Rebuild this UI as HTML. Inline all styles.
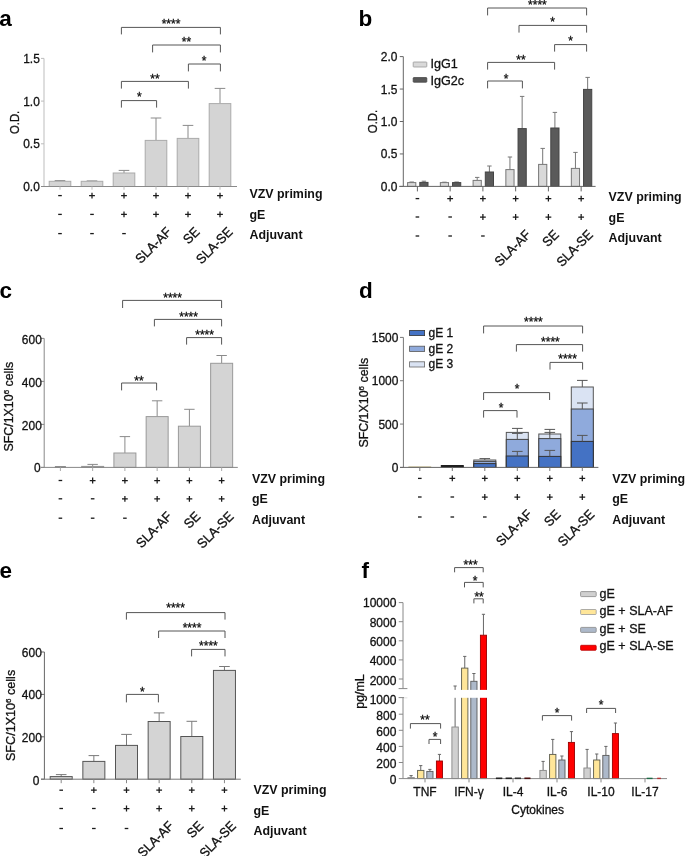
<!DOCTYPE html><html><head><meta charset="utf-8"><style>html,body{margin:0;padding:0;background:#fff;}svg{display:block;font-family:"Liberation Sans",sans-serif;will-change:transform;}</style></head><body>
<svg width="685" height="856" viewBox="0 0 685 856">
<rect width="685" height="856" fill="#fff"/>
<text transform="translate(-0.80,26.00)" font-size="22.5" text-anchor="start" font-weight="bold" fill="#000"  >a</text>
<line x1="44.00" y1="58.40" x2="44.00" y2="186.50" stroke="#bdbdbd" stroke-width="1"/>
<line x1="41.00" y1="186.50" x2="44.00" y2="186.50" stroke="#bdbdbd" stroke-width="1"/>
<text transform="translate(39.80,191.00) scale(0.95,1)" font-size="12.6" text-anchor="end" font-weight="normal" fill="#111" stroke="#111" stroke-width="0.3" >0.0</text>
<line x1="41.00" y1="143.80" x2="44.00" y2="143.80" stroke="#bdbdbd" stroke-width="1"/>
<text transform="translate(39.80,148.30) scale(0.95,1)" font-size="12.6" text-anchor="end" font-weight="normal" fill="#111" stroke="#111" stroke-width="0.3" >0.5</text>
<line x1="41.00" y1="101.10" x2="44.00" y2="101.10" stroke="#bdbdbd" stroke-width="1"/>
<text transform="translate(39.80,105.60) scale(0.95,1)" font-size="12.6" text-anchor="end" font-weight="normal" fill="#111" stroke="#111" stroke-width="0.3" >1.0</text>
<line x1="41.00" y1="58.40" x2="44.00" y2="58.40" stroke="#bdbdbd" stroke-width="1"/>
<text transform="translate(39.80,62.90) scale(0.95,1)" font-size="12.6" text-anchor="end" font-weight="normal" fill="#111" stroke="#111" stroke-width="0.3" >1.5</text>
<text transform="translate(18.5,122.4) rotate(-90) scale(0.9,1)" font-size="12.6" text-anchor="middle" fill="#111" stroke="#111" stroke-width="0.3">O.D.</text>
<line x1="60.00" y1="181.30" x2="60.00" y2="180.60" stroke="#8a8a8a" stroke-width="1"/>
<line x1="54.70" y1="180.60" x2="65.30" y2="180.60" stroke="#8a8a8a" stroke-width="1"/>
<rect x="49.20" y="181.30" width="21.60" height="5.20" fill="#d4d4d4" stroke="#aaaaaa" stroke-width="1"/>
<line x1="92.00" y1="181.30" x2="92.00" y2="180.90" stroke="#8a8a8a" stroke-width="1"/>
<line x1="86.70" y1="180.90" x2="97.30" y2="180.90" stroke="#8a8a8a" stroke-width="1"/>
<rect x="81.20" y="181.30" width="21.60" height="5.20" fill="#d4d4d4" stroke="#aaaaaa" stroke-width="1"/>
<line x1="124.00" y1="173.00" x2="124.00" y2="170.40" stroke="#8a8a8a" stroke-width="1"/>
<line x1="118.70" y1="170.40" x2="129.30" y2="170.40" stroke="#8a8a8a" stroke-width="1"/>
<rect x="113.20" y="173.00" width="21.60" height="13.50" fill="#d4d4d4" stroke="#aaaaaa" stroke-width="1"/>
<line x1="156.00" y1="140.40" x2="156.00" y2="118.00" stroke="#8a8a8a" stroke-width="1"/>
<line x1="150.70" y1="118.00" x2="161.30" y2="118.00" stroke="#8a8a8a" stroke-width="1"/>
<rect x="145.20" y="140.40" width="21.60" height="46.10" fill="#d4d4d4" stroke="#aaaaaa" stroke-width="1"/>
<line x1="188.00" y1="138.40" x2="188.00" y2="125.40" stroke="#8a8a8a" stroke-width="1"/>
<line x1="182.70" y1="125.40" x2="193.30" y2="125.40" stroke="#8a8a8a" stroke-width="1"/>
<rect x="177.20" y="138.40" width="21.60" height="48.10" fill="#d4d4d4" stroke="#aaaaaa" stroke-width="1"/>
<line x1="220.00" y1="103.60" x2="220.00" y2="88.40" stroke="#8a8a8a" stroke-width="1"/>
<line x1="214.70" y1="88.40" x2="225.30" y2="88.40" stroke="#8a8a8a" stroke-width="1"/>
<rect x="209.20" y="103.60" width="21.60" height="82.90" fill="#d4d4d4" stroke="#aaaaaa" stroke-width="1"/>
<line x1="41.00" y1="186.50" x2="237.00" y2="186.50" stroke="#8a8a8a" stroke-width="1"/>
<line x1="60.00" y1="186.50" x2="60.00" y2="189.70" stroke="#bdbdbd" stroke-width="1"/>
<line x1="92.00" y1="186.50" x2="92.00" y2="189.70" stroke="#bdbdbd" stroke-width="1"/>
<line x1="124.00" y1="186.50" x2="124.00" y2="189.70" stroke="#bdbdbd" stroke-width="1"/>
<line x1="156.00" y1="186.50" x2="156.00" y2="189.70" stroke="#bdbdbd" stroke-width="1"/>
<line x1="188.00" y1="186.50" x2="188.00" y2="189.70" stroke="#bdbdbd" stroke-width="1"/>
<line x1="220.00" y1="186.50" x2="220.00" y2="189.70" stroke="#bdbdbd" stroke-width="1"/>
<path d="M121.40 34.40 V27.40 H220.40 V34.40" fill="none" stroke="#555" stroke-width="1"/>
<text transform="translate(171.00,27.88)" font-size="12" text-anchor="middle" font-weight="normal" fill="#111" stroke="#111" stroke-width="0.3" letter-spacing="0">****</text>
<path d="M152.60 52.40 V45.00 H220.40 V52.40" fill="none" stroke="#555" stroke-width="1"/>
<text transform="translate(186.40,45.88)" font-size="12" text-anchor="middle" font-weight="normal" fill="#111" stroke="#111" stroke-width="0.3" letter-spacing="0">**</text>
<path d="M188.40 71.40 V64.00 H220.40 V71.40" fill="none" stroke="#555" stroke-width="1"/>
<text transform="translate(204.00,64.88)" font-size="12" text-anchor="middle" font-weight="normal" fill="#111" stroke="#111" stroke-width="0.3" letter-spacing="0">*</text>
<path d="M121.40 88.60 V81.40 H188.40 V88.60" fill="none" stroke="#555" stroke-width="1"/>
<text transform="translate(155.00,83.48)" font-size="12" text-anchor="middle" font-weight="normal" fill="#111" stroke="#111" stroke-width="0.3" letter-spacing="0">**</text>
<path d="M121.40 107.60 V100.60 H156.60 V107.60" fill="none" stroke="#555" stroke-width="1"/>
<text transform="translate(139.40,101.28)" font-size="12" text-anchor="middle" font-weight="normal" fill="#111" stroke="#111" stroke-width="0.3" letter-spacing="0">*</text>
<rect x="58.20" y="194.95" width="3.6" height="1.3" fill="#1a1a1a"/>
<path d="M89.10 195.60H94.90M92.00 192.70V198.50" stroke="#1a1a1a" stroke-width="1.25" fill="none"/>
<path d="M121.10 195.60H126.90M124.00 192.70V198.50" stroke="#1a1a1a" stroke-width="1.25" fill="none"/>
<path d="M153.10 195.60H158.90M156.00 192.70V198.50" stroke="#1a1a1a" stroke-width="1.25" fill="none"/>
<path d="M185.10 195.60H190.90M188.00 192.70V198.50" stroke="#1a1a1a" stroke-width="1.25" fill="none"/>
<path d="M217.10 195.60H222.90M220.00 192.70V198.50" stroke="#1a1a1a" stroke-width="1.25" fill="none"/>
<rect x="58.20" y="213.75" width="3.6" height="1.3" fill="#1a1a1a"/>
<rect x="90.20" y="213.75" width="3.6" height="1.3" fill="#1a1a1a"/>
<path d="M121.10 214.40H126.90M124.00 211.50V217.30" stroke="#1a1a1a" stroke-width="1.25" fill="none"/>
<path d="M153.10 214.40H158.90M156.00 211.50V217.30" stroke="#1a1a1a" stroke-width="1.25" fill="none"/>
<path d="M185.10 214.40H190.90M188.00 211.50V217.30" stroke="#1a1a1a" stroke-width="1.25" fill="none"/>
<path d="M217.10 214.40H222.90M220.00 211.50V217.30" stroke="#1a1a1a" stroke-width="1.25" fill="none"/>
<rect x="58.20" y="232.95" width="3.6" height="1.3" fill="#1a1a1a"/>
<rect x="90.20" y="232.95" width="3.6" height="1.3" fill="#1a1a1a"/>
<rect x="122.20" y="232.95" width="3.6" height="1.3" fill="#1a1a1a"/>
<text transform="translate(249.50,198.20)" font-size="12.4" text-anchor="start" font-weight="bold" fill="#111"  >VZV priming</text>
<text transform="translate(249.50,218.60)" font-size="12.4" text-anchor="start" font-weight="bold" fill="#111"  >gE</text>
<text transform="translate(249.50,238.80)" font-size="12.4" text-anchor="start" font-weight="bold" fill="#111"  >Adjuvant</text>
<text transform="translate(172.30,232.80) rotate(-45) scale(0.95,1)" font-size="13.4" text-anchor="end" fill="#111" stroke="#111" stroke-width="0.3">SLA-AF</text>
<text transform="translate(200.40,232.80) rotate(-45) scale(0.95,1)" font-size="13.4" text-anchor="end" fill="#111" stroke="#111" stroke-width="0.3">SE</text>
<text transform="translate(233.40,232.80) rotate(-45) scale(0.95,1)" font-size="13.4" text-anchor="end" fill="#111" stroke="#111" stroke-width="0.3">SLA-SE</text>
<text transform="translate(358.60,26.00)" font-size="22.5" text-anchor="start" font-weight="bold" fill="#000"  >b</text>
<line x1="403.30" y1="56.60" x2="403.30" y2="186.40" stroke="#666" stroke-width="1"/>
<line x1="399.80" y1="186.40" x2="403.30" y2="186.40" stroke="#666" stroke-width="1"/>
<text transform="translate(397.40,190.90) scale(0.95,1)" font-size="12.6" text-anchor="end" font-weight="normal" fill="#111" stroke="#111" stroke-width="0.3" >0.0</text>
<line x1="399.80" y1="153.95" x2="403.30" y2="153.95" stroke="#666" stroke-width="1"/>
<text transform="translate(397.40,158.45) scale(0.95,1)" font-size="12.6" text-anchor="end" font-weight="normal" fill="#111" stroke="#111" stroke-width="0.3" >0.5</text>
<line x1="399.80" y1="121.50" x2="403.30" y2="121.50" stroke="#666" stroke-width="1"/>
<text transform="translate(397.40,126.00) scale(0.95,1)" font-size="12.6" text-anchor="end" font-weight="normal" fill="#111" stroke="#111" stroke-width="0.3" >1.0</text>
<line x1="399.80" y1="89.05" x2="403.30" y2="89.05" stroke="#666" stroke-width="1"/>
<text transform="translate(397.40,93.55) scale(0.95,1)" font-size="12.6" text-anchor="end" font-weight="normal" fill="#111" stroke="#111" stroke-width="0.3" >1.5</text>
<line x1="399.80" y1="56.60" x2="403.30" y2="56.60" stroke="#666" stroke-width="1"/>
<text transform="translate(397.40,61.10) scale(0.95,1)" font-size="12.6" text-anchor="end" font-weight="normal" fill="#111" stroke="#111" stroke-width="0.3" >2.0</text>
<text transform="translate(377.0,121.5) rotate(-90) scale(0.9,1)" font-size="12.6" text-anchor="middle" fill="#111" stroke="#111" stroke-width="0.3">O.D.</text>
<rect x="413.2" y="62" width="13.6" height="5" rx="0.6" fill="#d9d9d9" stroke="#999" stroke-width="0.8"/>
<rect x="413.2" y="77.6" width="13.6" height="4.6" rx="0.6" fill="#595959" stroke="#444" stroke-width="0.8"/>
<text transform="translate(430.40,67.70)" font-size="12.6" text-anchor="start" font-weight="normal" fill="#111" stroke="#111" stroke-width="0.3" >IgG1</text>
<text transform="translate(430.40,84.60)" font-size="12.6" text-anchor="start" font-weight="normal" fill="#111" stroke="#111" stroke-width="0.3" >IgG2c</text>
<line x1="411.70" y1="182.60" x2="411.70" y2="182.00" stroke="#777" stroke-width="1"/>
<line x1="409.50" y1="182.00" x2="413.90" y2="182.00" stroke="#777" stroke-width="1"/>
<rect x="407.60" y="182.60" width="8.20" height="3.80" fill="#d9d9d9" stroke="#777" stroke-width="1"/>
<line x1="423.90" y1="182.40" x2="423.90" y2="181.20" stroke="#777" stroke-width="1"/>
<line x1="421.70" y1="181.20" x2="426.10" y2="181.20" stroke="#777" stroke-width="1"/>
<rect x="419.80" y="182.40" width="8.20" height="4.00" fill="#5a5a5a" stroke="#444" stroke-width="1"/>
<line x1="444.45" y1="182.60" x2="444.45" y2="182.20" stroke="#777" stroke-width="1"/>
<line x1="442.25" y1="182.20" x2="446.65" y2="182.20" stroke="#777" stroke-width="1"/>
<rect x="440.35" y="182.60" width="8.20" height="3.80" fill="#d9d9d9" stroke="#777" stroke-width="1"/>
<line x1="456.65" y1="182.60" x2="456.65" y2="182.00" stroke="#777" stroke-width="1"/>
<line x1="454.45" y1="182.00" x2="458.85" y2="182.00" stroke="#777" stroke-width="1"/>
<rect x="452.55" y="182.60" width="8.20" height="3.80" fill="#5a5a5a" stroke="#444" stroke-width="1"/>
<line x1="477.20" y1="180.40" x2="477.20" y2="177.40" stroke="#777" stroke-width="1"/>
<line x1="475.00" y1="177.40" x2="479.40" y2="177.40" stroke="#777" stroke-width="1"/>
<rect x="473.10" y="180.40" width="8.20" height="6.00" fill="#d9d9d9" stroke="#777" stroke-width="1"/>
<line x1="489.40" y1="172.00" x2="489.40" y2="166.00" stroke="#777" stroke-width="1"/>
<line x1="487.20" y1="166.00" x2="491.60" y2="166.00" stroke="#777" stroke-width="1"/>
<rect x="485.30" y="172.00" width="8.20" height="14.40" fill="#5a5a5a" stroke="#444" stroke-width="1"/>
<line x1="509.95" y1="169.60" x2="509.95" y2="157.00" stroke="#777" stroke-width="1"/>
<line x1="507.75" y1="157.00" x2="512.15" y2="157.00" stroke="#777" stroke-width="1"/>
<rect x="505.85" y="169.60" width="8.20" height="16.80" fill="#d9d9d9" stroke="#777" stroke-width="1"/>
<line x1="522.15" y1="128.60" x2="522.15" y2="96.40" stroke="#777" stroke-width="1"/>
<line x1="519.95" y1="96.40" x2="524.35" y2="96.40" stroke="#777" stroke-width="1"/>
<rect x="518.05" y="128.60" width="8.20" height="57.80" fill="#5a5a5a" stroke="#444" stroke-width="1"/>
<line x1="542.70" y1="164.40" x2="542.70" y2="148.40" stroke="#777" stroke-width="1"/>
<line x1="540.50" y1="148.40" x2="544.90" y2="148.40" stroke="#777" stroke-width="1"/>
<rect x="538.60" y="164.40" width="8.20" height="22.00" fill="#d9d9d9" stroke="#777" stroke-width="1"/>
<line x1="554.90" y1="128.00" x2="554.90" y2="112.40" stroke="#777" stroke-width="1"/>
<line x1="552.70" y1="112.40" x2="557.10" y2="112.40" stroke="#777" stroke-width="1"/>
<rect x="550.80" y="128.00" width="8.20" height="58.40" fill="#5a5a5a" stroke="#444" stroke-width="1"/>
<line x1="575.45" y1="168.40" x2="575.45" y2="152.40" stroke="#777" stroke-width="1"/>
<line x1="573.25" y1="152.40" x2="577.65" y2="152.40" stroke="#777" stroke-width="1"/>
<rect x="571.35" y="168.40" width="8.20" height="18.00" fill="#d9d9d9" stroke="#777" stroke-width="1"/>
<line x1="587.65" y1="89.40" x2="587.65" y2="77.40" stroke="#777" stroke-width="1"/>
<line x1="585.45" y1="77.40" x2="589.85" y2="77.40" stroke="#777" stroke-width="1"/>
<rect x="583.55" y="89.40" width="8.20" height="97.00" fill="#5a5a5a" stroke="#444" stroke-width="1"/>
<line x1="399.20" y1="186.40" x2="595.60" y2="186.40" stroke="#666" stroke-width="1"/>
<line x1="417.40" y1="186.40" x2="417.40" y2="191.40" stroke="#666" stroke-width="1"/>
<line x1="450.15" y1="186.40" x2="450.15" y2="191.40" stroke="#666" stroke-width="1"/>
<line x1="482.90" y1="186.40" x2="482.90" y2="191.40" stroke="#666" stroke-width="1"/>
<line x1="515.65" y1="186.40" x2="515.65" y2="191.40" stroke="#666" stroke-width="1"/>
<line x1="548.40" y1="186.40" x2="548.40" y2="191.40" stroke="#666" stroke-width="1"/>
<line x1="581.15" y1="186.40" x2="581.15" y2="191.40" stroke="#666" stroke-width="1"/>
<path d="M487.60 15.40 V8.00 H586.60 V15.40" fill="none" stroke="#555" stroke-width="1"/>
<text transform="translate(537.40,8.88)" font-size="12" text-anchor="middle" font-weight="normal" fill="#111" stroke="#111" stroke-width="0.3" letter-spacing="0">****</text>
<path d="M519.00 32.60 V25.40 H586.60 V32.60" fill="none" stroke="#555" stroke-width="1"/>
<text transform="translate(552.60,26.08)" font-size="12" text-anchor="middle" font-weight="normal" fill="#111" stroke="#111" stroke-width="0.3" letter-spacing="0">*</text>
<path d="M554.60 51.60 V44.60 H586.60 V51.60" fill="none" stroke="#555" stroke-width="1"/>
<text transform="translate(570.60,45.08)" font-size="12" text-anchor="middle" font-weight="normal" fill="#111" stroke="#111" stroke-width="0.3" letter-spacing="0">*</text>
<path d="M487.60 69.60 V62.40 H554.60 V69.60" fill="none" stroke="#555" stroke-width="1"/>
<text transform="translate(521.00,63.88)" font-size="12" text-anchor="middle" font-weight="normal" fill="#111" stroke="#111" stroke-width="0.3" letter-spacing="0">**</text>
<path d="M487.60 88.40 V81.00 H522.40 V88.40" fill="none" stroke="#555" stroke-width="1"/>
<text transform="translate(506.00,83.08)" font-size="12" text-anchor="middle" font-weight="normal" fill="#111" stroke="#111" stroke-width="0.3" letter-spacing="0">*</text>
<rect x="415.60" y="197.95" width="3.6" height="1.3" fill="#1a1a1a"/>
<path d="M447.25 198.60H453.05M450.15 195.70V201.50" stroke="#1a1a1a" stroke-width="1.25" fill="none"/>
<path d="M480.00 198.60H485.80M482.90 195.70V201.50" stroke="#1a1a1a" stroke-width="1.25" fill="none"/>
<path d="M512.75 198.60H518.55M515.65 195.70V201.50" stroke="#1a1a1a" stroke-width="1.25" fill="none"/>
<path d="M545.50 198.60H551.30M548.40 195.70V201.50" stroke="#1a1a1a" stroke-width="1.25" fill="none"/>
<path d="M578.25 198.60H584.05M581.15 195.70V201.50" stroke="#1a1a1a" stroke-width="1.25" fill="none"/>
<rect x="415.60" y="216.35" width="3.6" height="1.3" fill="#1a1a1a"/>
<rect x="448.35" y="216.35" width="3.6" height="1.3" fill="#1a1a1a"/>
<path d="M480.00 217.00H485.80M482.90 214.10V219.90" stroke="#1a1a1a" stroke-width="1.25" fill="none"/>
<path d="M512.75 217.00H518.55M515.65 214.10V219.90" stroke="#1a1a1a" stroke-width="1.25" fill="none"/>
<path d="M545.50 217.00H551.30M548.40 214.10V219.90" stroke="#1a1a1a" stroke-width="1.25" fill="none"/>
<path d="M578.25 217.00H584.05M581.15 214.10V219.90" stroke="#1a1a1a" stroke-width="1.25" fill="none"/>
<rect x="415.60" y="235.35" width="3.6" height="1.3" fill="#1a1a1a"/>
<rect x="448.35" y="235.35" width="3.6" height="1.3" fill="#1a1a1a"/>
<rect x="481.10" y="235.35" width="3.6" height="1.3" fill="#1a1a1a"/>
<text transform="translate(608.60,200.60)" font-size="12.4" text-anchor="start" font-weight="bold" fill="#111"  >VZV priming</text>
<text transform="translate(608.60,221.80)" font-size="12.4" text-anchor="start" font-weight="bold" fill="#111"  >gE</text>
<text transform="translate(608.60,242.00)" font-size="12.4" text-anchor="start" font-weight="bold" fill="#111"  >Adjuvant</text>
<text transform="translate(531.55,235.60) rotate(-45) scale(0.95,1)" font-size="13.4" text-anchor="end" fill="#111" stroke="#111" stroke-width="0.3">SLA-AF</text>
<text transform="translate(559.70,235.60) rotate(-45) scale(0.95,1)" font-size="13.4" text-anchor="end" fill="#111" stroke="#111" stroke-width="0.3">SE</text>
<text transform="translate(593.85,235.60) rotate(-45) scale(0.95,1)" font-size="13.4" text-anchor="end" fill="#111" stroke="#111" stroke-width="0.3">SLA-SE</text>
<text transform="translate(-0.40,298.40)" font-size="22.5" text-anchor="start" font-weight="bold" fill="#000"  >c</text>
<line x1="44.20" y1="338.40" x2="44.20" y2="467.40" stroke="#888" stroke-width="1"/>
<line x1="41.00" y1="467.40" x2="44.20" y2="467.40" stroke="#888" stroke-width="1"/>
<text transform="translate(40.60,472.30) scale(0.95,1)" font-size="12.6" text-anchor="end" font-weight="normal" fill="#111" stroke="#111" stroke-width="0.3" >0</text>
<line x1="41.00" y1="424.40" x2="44.20" y2="424.40" stroke="#888" stroke-width="1"/>
<text transform="translate(41.80,429.60) scale(0.95,1)" font-size="12.6" text-anchor="end" font-weight="normal" fill="#111" stroke="#111" stroke-width="0.3" >200</text>
<line x1="41.00" y1="381.40" x2="44.20" y2="381.40" stroke="#888" stroke-width="1"/>
<text transform="translate(41.80,386.60) scale(0.95,1)" font-size="12.6" text-anchor="end" font-weight="normal" fill="#111" stroke="#111" stroke-width="0.3" >400</text>
<line x1="41.00" y1="338.40" x2="44.20" y2="338.40" stroke="#888" stroke-width="1"/>
<text transform="translate(41.80,343.60) scale(0.95,1)" font-size="12.6" text-anchor="end" font-weight="normal" fill="#111" stroke="#111" stroke-width="0.3" >600</text>
<text transform="translate(13.3,406.6) rotate(-90)" font-size="12.4" text-anchor="middle" fill="#111" stroke="#111" stroke-width="0.3">SFC/1X10<tspan dy="-4.2" font-size="8">6</tspan><tspan dy="4.2"> cells</tspan></text>
<line x1="54.90" y1="467.00" x2="65.90" y2="467.00" stroke="#444" stroke-width="1.2"/>
<line x1="92.65" y1="466.40" x2="92.65" y2="464.40" stroke="#8a8a8a" stroke-width="1"/>
<line x1="87.45" y1="464.40" x2="97.85" y2="464.40" stroke="#8a8a8a" stroke-width="1"/>
<rect x="81.65" y="466.40" width="22.00" height="1.00" fill="#d4d4d4" stroke="#999" stroke-width="1"/>
<line x1="124.90" y1="453.00" x2="124.90" y2="436.60" stroke="#8a8a8a" stroke-width="1"/>
<line x1="119.70" y1="436.60" x2="130.10" y2="436.60" stroke="#8a8a8a" stroke-width="1"/>
<rect x="113.90" y="453.00" width="22.00" height="14.40" fill="#d4d4d4" stroke="#999" stroke-width="1"/>
<line x1="157.15" y1="416.60" x2="157.15" y2="400.80" stroke="#8a8a8a" stroke-width="1"/>
<line x1="151.95" y1="400.80" x2="162.35" y2="400.80" stroke="#8a8a8a" stroke-width="1"/>
<rect x="146.15" y="416.60" width="22.00" height="50.80" fill="#d4d4d4" stroke="#999" stroke-width="1"/>
<line x1="189.40" y1="426.20" x2="189.40" y2="409.30" stroke="#8a8a8a" stroke-width="1"/>
<line x1="184.20" y1="409.30" x2="194.60" y2="409.30" stroke="#8a8a8a" stroke-width="1"/>
<rect x="178.40" y="426.20" width="22.00" height="41.20" fill="#d4d4d4" stroke="#999" stroke-width="1"/>
<line x1="221.65" y1="363.30" x2="221.65" y2="355.50" stroke="#8a8a8a" stroke-width="1"/>
<line x1="216.45" y1="355.50" x2="226.85" y2="355.50" stroke="#8a8a8a" stroke-width="1"/>
<rect x="210.65" y="363.30" width="22.00" height="104.10" fill="#d4d4d4" stroke="#999" stroke-width="1"/>
<line x1="41.00" y1="467.40" x2="237.80" y2="467.40" stroke="#888" stroke-width="1"/>
<line x1="60.40" y1="467.40" x2="60.40" y2="471.00" stroke="#aaa" stroke-width="1"/>
<line x1="92.65" y1="467.40" x2="92.65" y2="471.00" stroke="#aaa" stroke-width="1"/>
<line x1="124.90" y1="467.40" x2="124.90" y2="471.00" stroke="#aaa" stroke-width="1"/>
<line x1="157.15" y1="467.40" x2="157.15" y2="471.00" stroke="#aaa" stroke-width="1"/>
<line x1="189.40" y1="467.40" x2="189.40" y2="471.00" stroke="#aaa" stroke-width="1"/>
<line x1="221.65" y1="467.40" x2="221.65" y2="471.00" stroke="#aaa" stroke-width="1"/>
<path d="M122.60 308.00 V300.40 H221.60 V308.00" fill="none" stroke="#555" stroke-width="1"/>
<text transform="translate(172.60,301.88)" font-size="12" text-anchor="middle" font-weight="normal" fill="#111" stroke="#111" stroke-width="0.3" letter-spacing="0">****</text>
<path d="M154.40 326.40 V319.40 H221.60 V326.40" fill="none" stroke="#555" stroke-width="1"/>
<text transform="translate(188.60,321.08)" font-size="12" text-anchor="middle" font-weight="normal" fill="#111" stroke="#111" stroke-width="0.3" letter-spacing="0">****</text>
<path d="M186.60 344.60 V337.60 H221.60 V344.60" fill="none" stroke="#555" stroke-width="1"/>
<text transform="translate(204.60,339.48)" font-size="12" text-anchor="middle" font-weight="normal" fill="#111" stroke="#111" stroke-width="0.3" letter-spacing="0">****</text>
<path d="M121.60 390.40 V383.00 H156.60 V390.40" fill="none" stroke="#555" stroke-width="1"/>
<text transform="translate(139.00,385.48)" font-size="12" text-anchor="middle" font-weight="normal" fill="#111" stroke="#111" stroke-width="0.3" letter-spacing="0">**</text>
<rect x="58.60" y="479.85" width="3.6" height="1.3" fill="#1a1a1a"/>
<path d="M89.75 480.50H95.55M92.65 477.60V483.40" stroke="#1a1a1a" stroke-width="1.25" fill="none"/>
<path d="M122.00 480.50H127.80M124.90 477.60V483.40" stroke="#1a1a1a" stroke-width="1.25" fill="none"/>
<path d="M154.25 480.50H160.05M157.15 477.60V483.40" stroke="#1a1a1a" stroke-width="1.25" fill="none"/>
<path d="M186.50 480.50H192.30M189.40 477.60V483.40" stroke="#1a1a1a" stroke-width="1.25" fill="none"/>
<path d="M218.75 480.50H224.55M221.65 477.60V483.40" stroke="#1a1a1a" stroke-width="1.25" fill="none"/>
<rect x="58.60" y="498.15" width="3.6" height="1.3" fill="#1a1a1a"/>
<rect x="90.85" y="498.15" width="3.6" height="1.3" fill="#1a1a1a"/>
<path d="M122.00 498.80H127.80M124.90 495.90V501.70" stroke="#1a1a1a" stroke-width="1.25" fill="none"/>
<path d="M154.25 498.80H160.05M157.15 495.90V501.70" stroke="#1a1a1a" stroke-width="1.25" fill="none"/>
<path d="M186.50 498.80H192.30M189.40 495.90V501.70" stroke="#1a1a1a" stroke-width="1.25" fill="none"/>
<path d="M218.75 498.80H224.55M221.65 495.90V501.70" stroke="#1a1a1a" stroke-width="1.25" fill="none"/>
<rect x="58.60" y="517.55" width="3.6" height="1.3" fill="#1a1a1a"/>
<rect x="90.85" y="517.55" width="3.6" height="1.3" fill="#1a1a1a"/>
<rect x="123.10" y="517.55" width="3.6" height="1.3" fill="#1a1a1a"/>
<text transform="translate(252.00,482.80)" font-size="12.4" text-anchor="start" font-weight="bold" fill="#111"  >VZV priming</text>
<text transform="translate(252.00,503.40)" font-size="12.4" text-anchor="start" font-weight="bold" fill="#111"  >gE</text>
<text transform="translate(252.00,523.60)" font-size="12.4" text-anchor="start" font-weight="bold" fill="#111"  >Adjuvant</text>
<text transform="translate(172.85,517.30) rotate(-45) scale(0.95,1)" font-size="13.4" text-anchor="end" fill="#111" stroke="#111" stroke-width="0.3">SLA-AF</text>
<text transform="translate(201.20,517.30) rotate(-45) scale(0.95,1)" font-size="13.4" text-anchor="end" fill="#111" stroke="#111" stroke-width="0.3">SE</text>
<text transform="translate(234.45,517.30) rotate(-45) scale(0.95,1)" font-size="13.4" text-anchor="end" fill="#111" stroke="#111" stroke-width="0.3">SLA-SE</text>
<text transform="translate(359.00,298.00)" font-size="22.5" text-anchor="start" font-weight="bold" fill="#000"  >d</text>
<line x1="403.40" y1="337.40" x2="403.40" y2="467.40" stroke="#777" stroke-width="1"/>
<line x1="400.00" y1="467.40" x2="403.40" y2="467.40" stroke="#777" stroke-width="1"/>
<text transform="translate(398.40,471.90) scale(0.95,1)" font-size="12.6" text-anchor="end" font-weight="normal" fill="#111" stroke="#111" stroke-width="0.3" >0</text>
<line x1="400.00" y1="424.07" x2="403.40" y2="424.07" stroke="#777" stroke-width="1"/>
<text transform="translate(398.40,428.57) scale(0.95,1)" font-size="12.6" text-anchor="end" font-weight="normal" fill="#111" stroke="#111" stroke-width="0.3" >500</text>
<line x1="400.00" y1="380.73" x2="403.40" y2="380.73" stroke="#777" stroke-width="1"/>
<text transform="translate(398.40,385.23) scale(0.95,1)" font-size="12.6" text-anchor="end" font-weight="normal" fill="#111" stroke="#111" stroke-width="0.3" >1000</text>
<line x1="400.00" y1="337.40" x2="403.40" y2="337.40" stroke="#777" stroke-width="1"/>
<text transform="translate(398.40,341.90) scale(0.95,1)" font-size="12.6" text-anchor="end" font-weight="normal" fill="#111" stroke="#111" stroke-width="0.3" >1500</text>
<text transform="translate(368.0,402.7) rotate(-90)" font-size="12.4" text-anchor="middle" fill="#111" stroke="#111" stroke-width="0.3">SFC/1X10<tspan dy="-4.2" font-size="8">6</tspan><tspan dy="4.2"> cells</tspan></text>
<rect x="409.6" y="330.4" width="15" height="5.2" fill="#4472c4" stroke="#333" stroke-width="0.8"/>
<rect x="409.6" y="346.2" width="15" height="5.2" fill="#8faadc" stroke="#555" stroke-width="0.8"/>
<rect x="409.6" y="361.8" width="15" height="5.2" fill="#dae3f3" stroke="#666" stroke-width="0.8"/>
<text transform="translate(428.60,336.70)" font-size="12.0" text-anchor="start" font-weight="normal" fill="#111" stroke="#111" stroke-width="0.3" >gE 1</text>
<text transform="translate(428.60,352.50)" font-size="12.0" text-anchor="start" font-weight="normal" fill="#111" stroke="#111" stroke-width="0.3" >gE 2</text>
<text transform="translate(428.60,368.20)" font-size="12.0" text-anchor="start" font-weight="normal" fill="#111" stroke="#111" stroke-width="0.3" >gE 3</text>
<rect x="408.80" y="466.60" width="22.00" height="0.80" fill="#e8e3c8" stroke="#cfc9a8" stroke-width="0.8"/>
<rect x="441.30" y="465.60" width="22.00" height="1.80" fill="#1a1a1a" stroke="#111" stroke-width="1"/>
<rect x="473.80" y="460.00" width="22.00" height="7.40" fill="#dae3f3" stroke="#555" stroke-width="1"/>
<rect x="473.80" y="461.40" width="22.00" height="6.00" fill="#8faadc" stroke="#444" stroke-width="1"/>
<rect x="473.80" y="463.60" width="22.00" height="3.80" fill="#4472c4" stroke="#333" stroke-width="1"/>
<line x1="484.80" y1="460.00" x2="484.80" y2="458.60" stroke="#555" stroke-width="1"/>
<line x1="479.50" y1="458.60" x2="490.10" y2="458.60" stroke="#555" stroke-width="1"/>
<rect x="506.30" y="432.40" width="22.00" height="35.00" fill="#dae3f3" stroke="#555" stroke-width="1"/>
<rect x="506.30" y="439.40" width="22.00" height="28.00" fill="#8faadc" stroke="#444" stroke-width="1"/>
<rect x="506.30" y="456.00" width="22.00" height="11.40" fill="#4472c4" stroke="#333" stroke-width="1"/>
<line x1="517.30" y1="456.00" x2="517.30" y2="451.40" stroke="#555" stroke-width="1"/>
<line x1="512.00" y1="451.40" x2="522.60" y2="451.40" stroke="#555" stroke-width="1"/>
<line x1="517.30" y1="439.40" x2="517.30" y2="433.40" stroke="#555" stroke-width="1"/>
<line x1="512.00" y1="433.40" x2="522.60" y2="433.40" stroke="#555" stroke-width="1"/>
<line x1="517.30" y1="432.40" x2="517.30" y2="428.40" stroke="#555" stroke-width="1"/>
<line x1="512.00" y1="428.40" x2="522.60" y2="428.40" stroke="#555" stroke-width="1"/>
<rect x="538.80" y="434.00" width="22.00" height="33.40" fill="#dae3f3" stroke="#555" stroke-width="1"/>
<rect x="538.80" y="438.60" width="22.00" height="28.80" fill="#8faadc" stroke="#444" stroke-width="1"/>
<rect x="538.80" y="456.40" width="22.00" height="11.00" fill="#4472c4" stroke="#333" stroke-width="1"/>
<line x1="549.80" y1="456.40" x2="549.80" y2="450.40" stroke="#555" stroke-width="1"/>
<line x1="544.50" y1="450.40" x2="555.10" y2="450.40" stroke="#555" stroke-width="1"/>
<line x1="549.80" y1="438.60" x2="549.80" y2="432.40" stroke="#555" stroke-width="1"/>
<line x1="544.50" y1="432.40" x2="555.10" y2="432.40" stroke="#555" stroke-width="1"/>
<line x1="549.80" y1="434.00" x2="549.80" y2="429.40" stroke="#555" stroke-width="1"/>
<line x1="544.50" y1="429.40" x2="555.10" y2="429.40" stroke="#555" stroke-width="1"/>
<rect x="571.30" y="387.00" width="22.00" height="80.40" fill="#dae3f3" stroke="#555" stroke-width="1"/>
<rect x="571.30" y="409.00" width="22.00" height="58.40" fill="#8faadc" stroke="#444" stroke-width="1"/>
<rect x="571.30" y="441.40" width="22.00" height="26.00" fill="#4472c4" stroke="#333" stroke-width="1"/>
<line x1="582.30" y1="441.40" x2="582.30" y2="435.40" stroke="#555" stroke-width="1"/>
<line x1="577.00" y1="435.40" x2="587.60" y2="435.40" stroke="#555" stroke-width="1"/>
<line x1="582.30" y1="409.00" x2="582.30" y2="403.00" stroke="#555" stroke-width="1"/>
<line x1="577.00" y1="403.00" x2="587.60" y2="403.00" stroke="#555" stroke-width="1"/>
<line x1="582.30" y1="387.00" x2="582.30" y2="380.40" stroke="#555" stroke-width="1"/>
<line x1="577.00" y1="380.40" x2="587.60" y2="380.40" stroke="#555" stroke-width="1"/>
<line x1="400.00" y1="467.40" x2="598.40" y2="467.40" stroke="#666" stroke-width="1"/>
<line x1="419.80" y1="467.40" x2="419.80" y2="471.00" stroke="#777" stroke-width="1"/>
<line x1="452.30" y1="467.40" x2="452.30" y2="471.00" stroke="#777" stroke-width="1"/>
<line x1="484.80" y1="467.40" x2="484.80" y2="471.00" stroke="#777" stroke-width="1"/>
<line x1="517.30" y1="467.40" x2="517.30" y2="471.00" stroke="#777" stroke-width="1"/>
<line x1="549.80" y1="467.40" x2="549.80" y2="471.00" stroke="#777" stroke-width="1"/>
<line x1="582.30" y1="467.40" x2="582.30" y2="471.00" stroke="#777" stroke-width="1"/>
<path d="M483.60 333.40 V326.00 H582.60 V333.40" fill="none" stroke="#555" stroke-width="1"/>
<text transform="translate(533.40,326.48)" font-size="12" text-anchor="middle" font-weight="normal" fill="#111" stroke="#111" stroke-width="0.3" letter-spacing="0">****</text>
<path d="M516.40 351.60 V344.60 H582.60 V351.60" fill="none" stroke="#555" stroke-width="1"/>
<text transform="translate(550.40,346.08)" font-size="12" text-anchor="middle" font-weight="normal" fill="#111" stroke="#111" stroke-width="0.3" letter-spacing="0">****</text>
<path d="M550.00 369.60 V362.40 H582.60 V369.60" fill="none" stroke="#555" stroke-width="1"/>
<text transform="translate(567.60,363.48)" font-size="12" text-anchor="middle" font-weight="normal" fill="#111" stroke="#111" stroke-width="0.3" letter-spacing="0">****</text>
<path d="M483.60 400.00 V392.60 H549.60 V400.00" fill="none" stroke="#555" stroke-width="1"/>
<text transform="translate(517.00,393.48)" font-size="12" text-anchor="middle" font-weight="normal" fill="#111" stroke="#111" stroke-width="0.3" letter-spacing="0">*</text>
<path d="M483.60 417.60 V410.60 H517.00 V417.60" fill="none" stroke="#555" stroke-width="1"/>
<text transform="translate(501.00,412.08)" font-size="12" text-anchor="middle" font-weight="normal" fill="#111" stroke="#111" stroke-width="0.3" letter-spacing="0">*</text>
<rect x="418.00" y="477.75" width="3.6" height="1.3" fill="#1a1a1a"/>
<path d="M449.40 478.40H455.20M452.30 475.50V481.30" stroke="#1a1a1a" stroke-width="1.25" fill="none"/>
<path d="M481.90 478.40H487.70M484.80 475.50V481.30" stroke="#1a1a1a" stroke-width="1.25" fill="none"/>
<path d="M514.40 478.40H520.20M517.30 475.50V481.30" stroke="#1a1a1a" stroke-width="1.25" fill="none"/>
<path d="M546.90 478.40H552.70M549.80 475.50V481.30" stroke="#1a1a1a" stroke-width="1.25" fill="none"/>
<path d="M579.40 478.40H585.20M582.30 475.50V481.30" stroke="#1a1a1a" stroke-width="1.25" fill="none"/>
<rect x="418.00" y="496.35" width="3.6" height="1.3" fill="#1a1a1a"/>
<rect x="450.50" y="496.35" width="3.6" height="1.3" fill="#1a1a1a"/>
<path d="M481.90 497.00H487.70M484.80 494.10V499.90" stroke="#1a1a1a" stroke-width="1.25" fill="none"/>
<path d="M514.40 497.00H520.20M517.30 494.10V499.90" stroke="#1a1a1a" stroke-width="1.25" fill="none"/>
<path d="M546.90 497.00H552.70M549.80 494.10V499.90" stroke="#1a1a1a" stroke-width="1.25" fill="none"/>
<path d="M579.40 497.00H585.20M582.30 494.10V499.90" stroke="#1a1a1a" stroke-width="1.25" fill="none"/>
<rect x="418.00" y="516.35" width="3.6" height="1.3" fill="#1a1a1a"/>
<rect x="450.50" y="516.35" width="3.6" height="1.3" fill="#1a1a1a"/>
<rect x="483.00" y="516.35" width="3.6" height="1.3" fill="#1a1a1a"/>
<text transform="translate(612.20,482.60)" font-size="12.4" text-anchor="start" font-weight="bold" fill="#111"  >VZV priming</text>
<text transform="translate(612.20,503.20)" font-size="12.4" text-anchor="start" font-weight="bold" fill="#111"  >gE</text>
<text transform="translate(612.20,524.20)" font-size="12.4" text-anchor="start" font-weight="bold" fill="#111"  >Adjuvant</text>
<text transform="translate(533.00,515.30) rotate(-45) scale(0.95,1)" font-size="13.4" text-anchor="end" fill="#111" stroke="#111" stroke-width="0.3">SLA-AF</text>
<text transform="translate(561.50,515.30) rotate(-45) scale(0.95,1)" font-size="13.4" text-anchor="end" fill="#111" stroke="#111" stroke-width="0.3">SE</text>
<text transform="translate(595.20,515.30) rotate(-45) scale(0.95,1)" font-size="13.4" text-anchor="end" fill="#111" stroke="#111" stroke-width="0.3">SLA-SE</text>
<text transform="translate(-0.60,578.40)" font-size="22.5" text-anchor="start" font-weight="bold" fill="#000"  >e</text>
<line x1="44.40" y1="652.00" x2="44.40" y2="779.20" stroke="#666" stroke-width="1"/>
<line x1="41.00" y1="779.20" x2="44.40" y2="779.20" stroke="#666" stroke-width="1"/>
<text transform="translate(39.40,784.80) scale(0.95,1)" font-size="12.6" text-anchor="end" font-weight="normal" fill="#111" stroke="#111" stroke-width="0.3" >0</text>
<line x1="41.00" y1="736.80" x2="44.40" y2="736.80" stroke="#666" stroke-width="1"/>
<text transform="translate(41.80,741.80) scale(0.95,1)" font-size="12.6" text-anchor="end" font-weight="normal" fill="#111" stroke="#111" stroke-width="0.3" >200</text>
<line x1="41.00" y1="694.40" x2="44.40" y2="694.40" stroke="#666" stroke-width="1"/>
<text transform="translate(41.80,699.40) scale(0.95,1)" font-size="12.6" text-anchor="end" font-weight="normal" fill="#111" stroke="#111" stroke-width="0.3" >400</text>
<line x1="41.00" y1="652.00" x2="44.40" y2="652.00" stroke="#666" stroke-width="1"/>
<text transform="translate(41.80,657.00) scale(0.95,1)" font-size="12.6" text-anchor="end" font-weight="normal" fill="#111" stroke="#111" stroke-width="0.3" >600</text>
<text transform="translate(15.0,715.4) rotate(-90)" font-size="12.6" text-anchor="middle" fill="#111" stroke="#111" stroke-width="0.3">SFC/1X10<tspan dy="-4.2" font-size="8">6</tspan><tspan dy="4.2"> cells</tspan></text>
<line x1="61.20" y1="776.60" x2="61.20" y2="774.60" stroke="#7a7a7a" stroke-width="1"/>
<line x1="55.90" y1="774.60" x2="66.50" y2="774.60" stroke="#7a7a7a" stroke-width="1"/>
<rect x="50.20" y="776.60" width="22.00" height="2.60" fill="#d4d4d4" stroke="#555" stroke-width="1"/>
<line x1="93.85" y1="761.40" x2="93.85" y2="755.60" stroke="#7a7a7a" stroke-width="1"/>
<line x1="88.55" y1="755.60" x2="99.15" y2="755.60" stroke="#7a7a7a" stroke-width="1"/>
<rect x="82.85" y="761.40" width="22.00" height="17.80" fill="#d4d4d4" stroke="#555" stroke-width="1"/>
<line x1="126.50" y1="745.40" x2="126.50" y2="734.40" stroke="#7a7a7a" stroke-width="1"/>
<line x1="121.20" y1="734.40" x2="131.80" y2="734.40" stroke="#7a7a7a" stroke-width="1"/>
<rect x="115.50" y="745.40" width="22.00" height="33.80" fill="#d4d4d4" stroke="#555" stroke-width="1"/>
<line x1="159.15" y1="721.50" x2="159.15" y2="712.90" stroke="#7a7a7a" stroke-width="1"/>
<line x1="153.85" y1="712.90" x2="164.45" y2="712.90" stroke="#7a7a7a" stroke-width="1"/>
<rect x="148.15" y="721.50" width="22.00" height="57.70" fill="#d4d4d4" stroke="#555" stroke-width="1"/>
<line x1="191.80" y1="736.50" x2="191.80" y2="721.30" stroke="#7a7a7a" stroke-width="1"/>
<line x1="186.50" y1="721.30" x2="197.10" y2="721.30" stroke="#7a7a7a" stroke-width="1"/>
<rect x="180.80" y="736.50" width="22.00" height="42.70" fill="#d4d4d4" stroke="#555" stroke-width="1"/>
<line x1="224.45" y1="670.40" x2="224.45" y2="666.50" stroke="#7a7a7a" stroke-width="1"/>
<line x1="219.15" y1="666.50" x2="229.75" y2="666.50" stroke="#7a7a7a" stroke-width="1"/>
<rect x="213.45" y="670.40" width="22.00" height="108.80" fill="#d4d4d4" stroke="#555" stroke-width="1"/>
<line x1="41.00" y1="779.20" x2="240.80" y2="779.20" stroke="#777" stroke-width="1"/>
<line x1="61.20" y1="779.20" x2="61.20" y2="783.20" stroke="#888" stroke-width="1"/>
<line x1="93.85" y1="779.20" x2="93.85" y2="783.20" stroke="#888" stroke-width="1"/>
<line x1="126.50" y1="779.20" x2="126.50" y2="783.20" stroke="#888" stroke-width="1"/>
<line x1="159.15" y1="779.20" x2="159.15" y2="783.20" stroke="#888" stroke-width="1"/>
<line x1="191.80" y1="779.20" x2="191.80" y2="783.20" stroke="#888" stroke-width="1"/>
<line x1="224.45" y1="779.20" x2="224.45" y2="783.20" stroke="#888" stroke-width="1"/>
<path d="M126.40 619.60 V612.60 H225.00 V619.60" fill="none" stroke="#555" stroke-width="1"/>
<text transform="translate(175.60,612.48)" font-size="12" text-anchor="middle" font-weight="normal" fill="#111" stroke="#111" stroke-width="0.3" letter-spacing="0">****</text>
<path d="M158.60 638.00 V631.00 H225.00 V638.00" fill="none" stroke="#555" stroke-width="1"/>
<text transform="translate(192.00,632.08)" font-size="12" text-anchor="middle" font-weight="normal" fill="#111" stroke="#111" stroke-width="0.3" letter-spacing="0">****</text>
<path d="M191.60 656.40 V649.40 H225.00 V656.40" fill="none" stroke="#555" stroke-width="1"/>
<text transform="translate(208.40,650.08)" font-size="12" text-anchor="middle" font-weight="normal" fill="#111" stroke="#111" stroke-width="0.3" letter-spacing="0">****</text>
<path d="M126.40 702.40 V694.40 H158.40 V702.40" fill="none" stroke="#555" stroke-width="1"/>
<text transform="translate(142.40,695.88)" font-size="12" text-anchor="middle" font-weight="normal" fill="#111" stroke="#111" stroke-width="0.3" letter-spacing="0">*</text>
<rect x="59.40" y="789.55" width="3.6" height="1.3" fill="#1a1a1a"/>
<path d="M90.95 790.20H96.75M93.85 787.30V793.10" stroke="#1a1a1a" stroke-width="1.25" fill="none"/>
<path d="M123.60 790.20H129.40M126.50 787.30V793.10" stroke="#1a1a1a" stroke-width="1.25" fill="none"/>
<path d="M156.25 790.20H162.05M159.15 787.30V793.10" stroke="#1a1a1a" stroke-width="1.25" fill="none"/>
<path d="M188.90 790.20H194.70M191.80 787.30V793.10" stroke="#1a1a1a" stroke-width="1.25" fill="none"/>
<path d="M221.55 790.20H227.35M224.45 787.30V793.10" stroke="#1a1a1a" stroke-width="1.25" fill="none"/>
<rect x="59.40" y="807.85" width="3.6" height="1.3" fill="#1a1a1a"/>
<rect x="92.05" y="807.85" width="3.6" height="1.3" fill="#1a1a1a"/>
<path d="M123.60 808.50H129.40M126.50 805.60V811.40" stroke="#1a1a1a" stroke-width="1.25" fill="none"/>
<path d="M156.25 808.50H162.05M159.15 805.60V811.40" stroke="#1a1a1a" stroke-width="1.25" fill="none"/>
<path d="M188.90 808.50H194.70M191.80 805.60V811.40" stroke="#1a1a1a" stroke-width="1.25" fill="none"/>
<path d="M221.55 808.50H227.35M224.45 805.60V811.40" stroke="#1a1a1a" stroke-width="1.25" fill="none"/>
<rect x="59.40" y="827.85" width="3.6" height="1.3" fill="#1a1a1a"/>
<rect x="92.05" y="827.85" width="3.6" height="1.3" fill="#1a1a1a"/>
<rect x="124.70" y="827.85" width="3.6" height="1.3" fill="#1a1a1a"/>
<text transform="translate(253.50,793.80)" font-size="12.4" text-anchor="start" font-weight="bold" fill="#111"  >VZV priming</text>
<text transform="translate(253.50,814.60)" font-size="12.4" text-anchor="start" font-weight="bold" fill="#111"  >gE</text>
<text transform="translate(253.50,835.20)" font-size="12.4" text-anchor="start" font-weight="bold" fill="#111"  >Adjuvant</text>
<text transform="translate(174.45,826.80) rotate(-45) scale(0.95,1)" font-size="13.4" text-anchor="end" fill="#111" stroke="#111" stroke-width="0.3">SLA-AF</text>
<text transform="translate(204.20,826.80) rotate(-45) scale(0.95,1)" font-size="13.4" text-anchor="end" fill="#111" stroke="#111" stroke-width="0.3">SE</text>
<text transform="translate(236.85,826.80) rotate(-45) scale(0.95,1)" font-size="13.4" text-anchor="end" fill="#111" stroke="#111" stroke-width="0.3">SLA-SE</text>
<text transform="translate(361.60,577.80)" font-size="22.5" text-anchor="start" font-weight="bold" fill="#000"  >f</text>
<line x1="403.00" y1="602.60" x2="403.00" y2="688.60" stroke="#888" stroke-width="1"/>
<line x1="403.00" y1="697.60" x2="403.00" y2="778.60" stroke="#888" stroke-width="1"/>
<line x1="398.60" y1="688.60" x2="407.40" y2="688.60" stroke="#888" stroke-width="1"/>
<line x1="398.60" y1="697.60" x2="407.40" y2="697.60" stroke="#888" stroke-width="1"/>
<line x1="398.80" y1="679.00" x2="403.00" y2="679.00" stroke="#888" stroke-width="1"/>
<text transform="translate(396.40,684.80)" font-size="12" text-anchor="end" font-weight="normal" fill="#111" stroke="#111" stroke-width="0.3" >2000</text>
<line x1="398.80" y1="659.90" x2="403.00" y2="659.90" stroke="#888" stroke-width="1"/>
<text transform="translate(396.40,665.40)" font-size="12" text-anchor="end" font-weight="normal" fill="#111" stroke="#111" stroke-width="0.3" >4000</text>
<line x1="398.80" y1="640.80" x2="403.00" y2="640.80" stroke="#888" stroke-width="1"/>
<text transform="translate(396.40,646.00)" font-size="12" text-anchor="end" font-weight="normal" fill="#111" stroke="#111" stroke-width="0.3" >6000</text>
<line x1="398.80" y1="621.70" x2="403.00" y2="621.70" stroke="#888" stroke-width="1"/>
<text transform="translate(396.40,626.60)" font-size="12" text-anchor="end" font-weight="normal" fill="#111" stroke="#111" stroke-width="0.3" >8000</text>
<line x1="398.80" y1="602.60" x2="403.00" y2="602.60" stroke="#888" stroke-width="1"/>
<text transform="translate(396.40,607.20)" font-size="12" text-anchor="end" font-weight="normal" fill="#111" stroke="#111" stroke-width="0.3" >10000</text>
<line x1="398.80" y1="778.60" x2="403.00" y2="778.60" stroke="#888" stroke-width="1"/>
<text transform="translate(396.40,784.40)" font-size="12" text-anchor="end" font-weight="normal" fill="#111" stroke="#111" stroke-width="0.3" >0</text>
<line x1="398.80" y1="762.50" x2="403.00" y2="762.50" stroke="#888" stroke-width="1"/>
<text transform="translate(396.40,768.30)" font-size="12" text-anchor="end" font-weight="normal" fill="#111" stroke="#111" stroke-width="0.3" >200</text>
<line x1="398.80" y1="746.40" x2="403.00" y2="746.40" stroke="#888" stroke-width="1"/>
<text transform="translate(396.40,752.20)" font-size="12" text-anchor="end" font-weight="normal" fill="#111" stroke="#111" stroke-width="0.3" >400</text>
<line x1="398.80" y1="730.30" x2="403.00" y2="730.30" stroke="#888" stroke-width="1"/>
<text transform="translate(396.40,736.10)" font-size="12" text-anchor="end" font-weight="normal" fill="#111" stroke="#111" stroke-width="0.3" >600</text>
<line x1="398.80" y1="714.20" x2="403.00" y2="714.20" stroke="#888" stroke-width="1"/>
<text transform="translate(396.40,720.00)" font-size="12" text-anchor="end" font-weight="normal" fill="#111" stroke="#111" stroke-width="0.3" >800</text>
<text transform="translate(396.40,703.90)" font-size="12" text-anchor="end" font-weight="normal" fill="#111" stroke="#111" stroke-width="0.3" >1000</text>
<text transform="translate(364.4,691.5) rotate(-90)" font-size="12.4" text-anchor="middle" fill="#111" stroke="#111" stroke-width="0.3">pg/mL</text>
<line x1="411.10" y1="777.60" x2="411.10" y2="775.60" stroke="#666" stroke-width="1"/>
<line x1="409.50" y1="775.60" x2="412.70" y2="775.60" stroke="#666" stroke-width="1"/>
<rect x="407.90" y="777.60" width="6.40" height="1.00" fill="#d0d0d0" stroke="#888" stroke-width="0.9"/>
<line x1="420.75" y1="770.40" x2="420.75" y2="765.60" stroke="#666" stroke-width="1"/>
<line x1="419.15" y1="765.60" x2="422.35" y2="765.60" stroke="#666" stroke-width="1"/>
<rect x="417.60" y="770.40" width="6.30" height="8.20" fill="#ffe699" stroke="#5a5a4a" stroke-width="0.9"/>
<line x1="429.90" y1="771.40" x2="429.90" y2="769.40" stroke="#666" stroke-width="1"/>
<line x1="428.30" y1="769.40" x2="431.50" y2="769.40" stroke="#666" stroke-width="1"/>
<rect x="426.80" y="771.40" width="6.20" height="7.20" fill="#adb9ca" stroke="#5a5a5a" stroke-width="0.9"/>
<line x1="439.45" y1="761.00" x2="439.45" y2="754.40" stroke="#666" stroke-width="1"/>
<line x1="437.85" y1="754.40" x2="441.05" y2="754.40" stroke="#666" stroke-width="1"/>
<rect x="436.40" y="761.00" width="6.10" height="17.60" fill="#ff0000" stroke="#900" stroke-width="0.9"/>
<line x1="455.10" y1="727.00" x2="455.10" y2="686.00" stroke="#666" stroke-width="1"/>
<line x1="453.50" y1="686.00" x2="456.70" y2="686.00" stroke="#666" stroke-width="1"/>
<rect x="451.90" y="727.00" width="6.40" height="51.60" fill="#d0d0d0" stroke="#888" stroke-width="0.9"/>
<line x1="464.75" y1="668.10" x2="464.75" y2="656.40" stroke="#666" stroke-width="1"/>
<line x1="463.15" y1="656.40" x2="466.35" y2="656.40" stroke="#666" stroke-width="1"/>
<rect x="461.60" y="668.10" width="6.30" height="110.50" fill="#ffe699" stroke="#5a5a4a" stroke-width="0.9"/>
<line x1="473.90" y1="681.30" x2="473.90" y2="673.50" stroke="#666" stroke-width="1"/>
<line x1="472.30" y1="673.50" x2="475.50" y2="673.50" stroke="#666" stroke-width="1"/>
<rect x="470.80" y="681.30" width="6.20" height="97.30" fill="#adb9ca" stroke="#5a5a5a" stroke-width="0.9"/>
<line x1="483.45" y1="635.20" x2="483.45" y2="614.30" stroke="#666" stroke-width="1"/>
<line x1="481.85" y1="614.30" x2="485.05" y2="614.30" stroke="#666" stroke-width="1"/>
<rect x="480.40" y="635.20" width="6.10" height="143.40" fill="#ff0000" stroke="#900" stroke-width="0.9"/>
<line x1="543.10" y1="770.40" x2="543.10" y2="761.40" stroke="#666" stroke-width="1"/>
<line x1="541.50" y1="761.40" x2="544.70" y2="761.40" stroke="#666" stroke-width="1"/>
<rect x="539.90" y="770.40" width="6.40" height="8.20" fill="#d0d0d0" stroke="#888" stroke-width="0.9"/>
<line x1="552.75" y1="754.40" x2="552.75" y2="739.40" stroke="#666" stroke-width="1"/>
<line x1="551.15" y1="739.40" x2="554.35" y2="739.40" stroke="#666" stroke-width="1"/>
<rect x="549.60" y="754.40" width="6.30" height="24.20" fill="#ffe699" stroke="#5a5a4a" stroke-width="0.9"/>
<line x1="561.90" y1="760.00" x2="561.90" y2="756.00" stroke="#666" stroke-width="1"/>
<line x1="560.30" y1="756.00" x2="563.50" y2="756.00" stroke="#666" stroke-width="1"/>
<rect x="558.80" y="760.00" width="6.20" height="18.60" fill="#adb9ca" stroke="#5a5a5a" stroke-width="0.9"/>
<line x1="571.45" y1="742.40" x2="571.45" y2="731.60" stroke="#666" stroke-width="1"/>
<line x1="569.85" y1="731.60" x2="573.05" y2="731.60" stroke="#666" stroke-width="1"/>
<rect x="568.40" y="742.40" width="6.10" height="36.20" fill="#ff0000" stroke="#900" stroke-width="0.9"/>
<line x1="587.10" y1="768.00" x2="587.10" y2="749.40" stroke="#666" stroke-width="1"/>
<line x1="585.50" y1="749.40" x2="588.70" y2="749.40" stroke="#666" stroke-width="1"/>
<rect x="583.90" y="768.00" width="6.40" height="10.60" fill="#d0d0d0" stroke="#888" stroke-width="0.9"/>
<line x1="596.75" y1="760.00" x2="596.75" y2="754.00" stroke="#666" stroke-width="1"/>
<line x1="595.15" y1="754.00" x2="598.35" y2="754.00" stroke="#666" stroke-width="1"/>
<rect x="593.60" y="760.00" width="6.30" height="18.60" fill="#ffe699" stroke="#5a5a4a" stroke-width="0.9"/>
<line x1="605.90" y1="755.40" x2="605.90" y2="746.40" stroke="#666" stroke-width="1"/>
<line x1="604.30" y1="746.40" x2="607.50" y2="746.40" stroke="#666" stroke-width="1"/>
<rect x="602.80" y="755.40" width="6.20" height="23.20" fill="#adb9ca" stroke="#5a5a5a" stroke-width="0.9"/>
<line x1="615.45" y1="733.60" x2="615.45" y2="723.00" stroke="#666" stroke-width="1"/>
<line x1="613.85" y1="723.00" x2="617.05" y2="723.00" stroke="#666" stroke-width="1"/>
<rect x="612.40" y="733.60" width="6.10" height="45.00" fill="#ff0000" stroke="#900" stroke-width="0.9"/>
<rect x="404" y="689.9" width="100" height="7.9" fill="#fff"/>
<line x1="403.00" y1="778.60" x2="667.00" y2="778.60" stroke="#888" stroke-width="1"/>
<line x1="425.00" y1="778.60" x2="425.00" y2="782.40" stroke="#888" stroke-width="1"/>
<line x1="469.00" y1="778.60" x2="469.00" y2="782.40" stroke="#888" stroke-width="1"/>
<line x1="513.00" y1="778.60" x2="513.00" y2="782.40" stroke="#888" stroke-width="1"/>
<line x1="557.00" y1="778.60" x2="557.00" y2="782.40" stroke="#888" stroke-width="1"/>
<line x1="601.00" y1="778.60" x2="601.00" y2="782.40" stroke="#888" stroke-width="1"/>
<line x1="645.00" y1="778.60" x2="645.00" y2="782.40" stroke="#888" stroke-width="1"/>
<line x1="495.90" y1="778.30" x2="502.30" y2="778.30" stroke="#222" stroke-width="1.6"/>
<line x1="505.60" y1="778.30" x2="511.90" y2="778.30" stroke="#222" stroke-width="1.6"/>
<line x1="514.80" y1="778.30" x2="521.00" y2="778.30" stroke="#333" stroke-width="1.6"/>
<line x1="524.40" y1="778.30" x2="530.50" y2="778.30" stroke="#4a1010" stroke-width="1.6"/>
<line x1="646.70" y1="778.40" x2="652.60" y2="778.40" stroke="#1d6a45" stroke-width="1.4"/>
<line x1="657.20" y1="778.40" x2="660.90" y2="778.40" stroke="#b03030" stroke-width="1.4"/>
<text transform="translate(425.00,795.80)" font-size="12" text-anchor="middle" font-weight="normal" fill="#111" stroke="#111" stroke-width="0.3" >TNF</text>
<text transform="translate(469.00,795.80)" font-size="12" text-anchor="middle" font-weight="normal" fill="#111" stroke="#111" stroke-width="0.3" >IFN-&#947;</text>
<text transform="translate(513.00,795.80)" font-size="12" text-anchor="middle" font-weight="normal" fill="#111" stroke="#111" stroke-width="0.3" >IL-4</text>
<text transform="translate(557.00,795.80)" font-size="12" text-anchor="middle" font-weight="normal" fill="#111" stroke="#111" stroke-width="0.3" >IL-6</text>
<text transform="translate(601.00,795.80)" font-size="12" text-anchor="middle" font-weight="normal" fill="#111" stroke="#111" stroke-width="0.3" >IL-10</text>
<text transform="translate(645.00,795.80)" font-size="12" text-anchor="middle" font-weight="normal" fill="#111" stroke="#111" stroke-width="0.3" >IL-17</text>
<text transform="translate(537.70,813.80)" font-size="12" text-anchor="middle" font-weight="normal" fill="#111" stroke="#111" stroke-width="0.3" >Cytokines</text>
<path d="M410.40 728.60 V723.60 H440.60 V728.60" fill="none" stroke="#555" stroke-width="1"/>
<text transform="translate(425.00,724.48)" font-size="12" text-anchor="middle" font-weight="normal" fill="#111" stroke="#111" stroke-width="0.3" letter-spacing="0">**</text>
<path d="M429.00 744.00 V739.40 H440.60 V744.00" fill="none" stroke="#555" stroke-width="1"/>
<text transform="translate(435.00,740.88)" font-size="12" text-anchor="middle" font-weight="normal" fill="#111" stroke="#111" stroke-width="0.3" letter-spacing="0">*</text>
<path d="M454.60 572.30 V567.60 H483.20 V572.30" fill="none" stroke="#555" stroke-width="1"/>
<text transform="translate(470.60,569.38)" font-size="12" text-anchor="middle" font-weight="normal" fill="#111" stroke="#111" stroke-width="0.3" letter-spacing="0">***</text>
<path d="M464.50 587.40 V582.40 H483.20 V587.40" fill="none" stroke="#555" stroke-width="1"/>
<text transform="translate(475.00,584.98)" font-size="12" text-anchor="middle" font-weight="normal" fill="#111" stroke="#111" stroke-width="0.3" letter-spacing="0">*</text>
<path d="M473.90 603.40 V598.80 H483.20 V603.40" fill="none" stroke="#555" stroke-width="1"/>
<text transform="translate(479.10,601.48)" font-size="12" text-anchor="middle" font-weight="normal" fill="#111" stroke="#111" stroke-width="0.3" letter-spacing="0">**</text>
<path d="M542.40 720.60 V715.60 H571.60 V720.60" fill="none" stroke="#555" stroke-width="1"/>
<text transform="translate(557.00,716.88)" font-size="12" text-anchor="middle" font-weight="normal" fill="#111" stroke="#111" stroke-width="0.3" letter-spacing="0">*</text>
<path d="M586.60 713.00 V708.40 H615.60 V713.00" fill="none" stroke="#555" stroke-width="1"/>
<text transform="translate(601.00,709.48)" font-size="12" text-anchor="middle" font-weight="normal" fill="#111" stroke="#111" stroke-width="0.3" letter-spacing="0">*</text>
<rect x="580.6" y="591.60" width="15.6" height="5" rx="0.8" fill="#d0d0d0" stroke="#888" stroke-width="0.8"/>
<text transform="translate(599.60,597.80)" font-size="12.5" text-anchor="start" font-weight="normal" fill="#111" stroke="#111" stroke-width="0.3" >gE</text>
<rect x="580.6" y="609.50" width="15.6" height="5" rx="0.8" fill="#ffe699" stroke="#999" stroke-width="0.8"/>
<text transform="translate(599.60,615.20)" font-size="12.5" text-anchor="start" font-weight="normal" fill="#111" stroke="#111" stroke-width="0.3" >gE + SLA-AF</text>
<rect x="580.6" y="627.40" width="15.6" height="5" rx="0.8" fill="#adb9ca" stroke="#888" stroke-width="0.8"/>
<text transform="translate(599.60,632.60)" font-size="12.5" text-anchor="start" font-weight="normal" fill="#111" stroke="#111" stroke-width="0.3" >gE + SE</text>
<rect x="580.6" y="645.30" width="15.6" height="5" rx="0.8" fill="#ff0000" stroke="#b00" stroke-width="0.8"/>
<text transform="translate(599.60,650.00)" font-size="12.5" text-anchor="start" font-weight="normal" fill="#111" stroke="#111" stroke-width="0.3" >gE + SLA-SE</text>
</svg></body></html>
